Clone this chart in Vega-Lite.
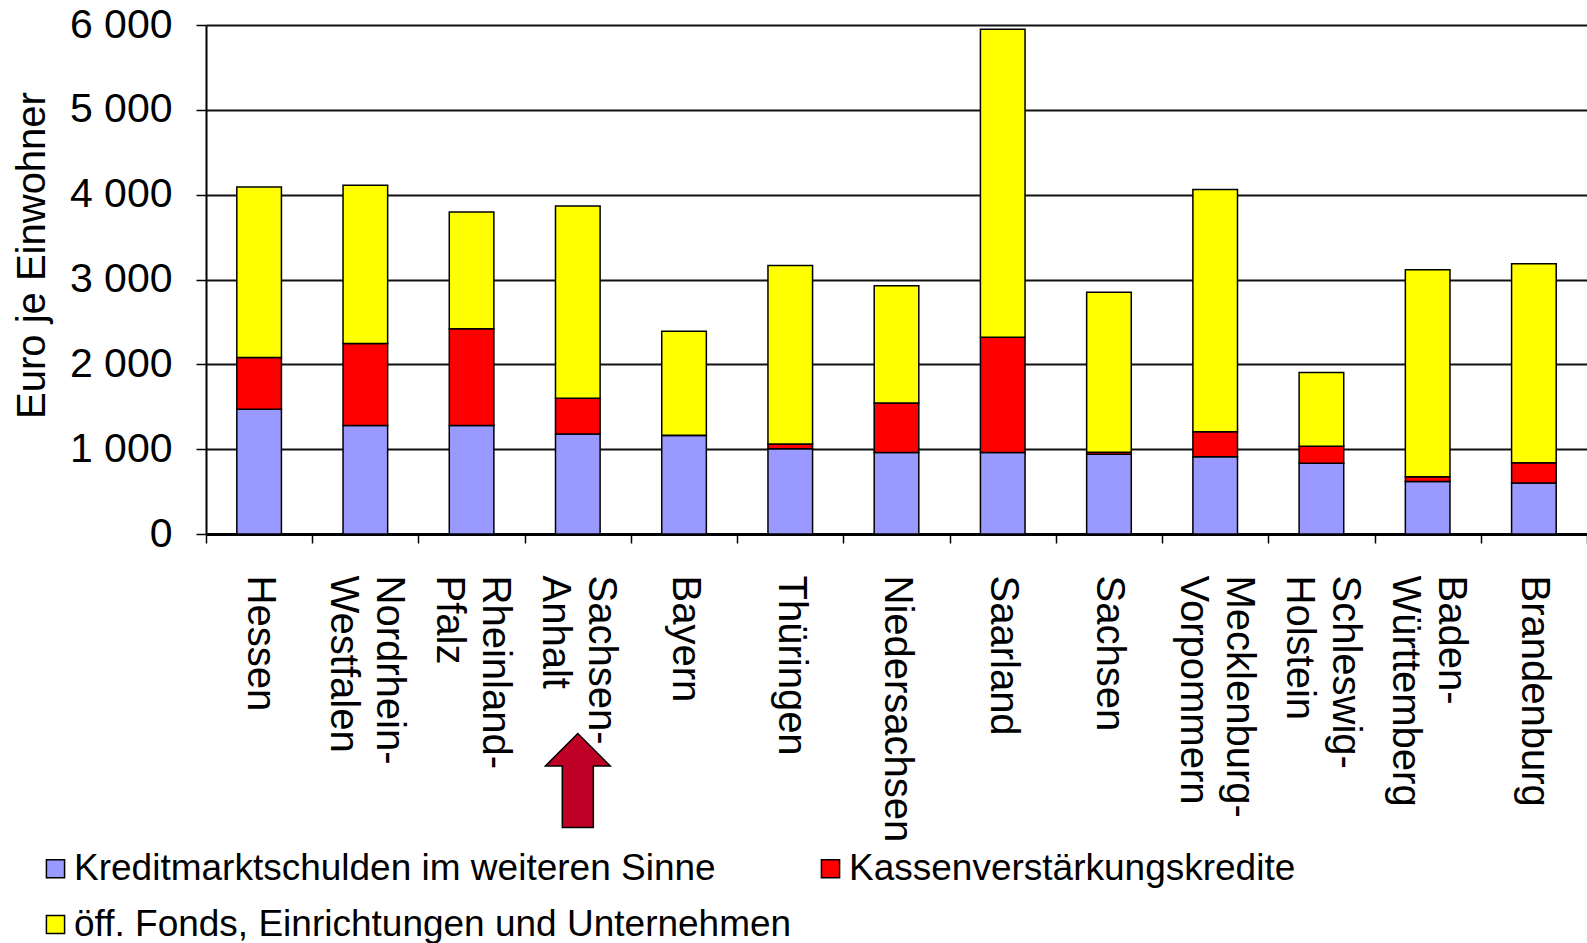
{
  "$schema": "https://vega.github.io/schema/vega-lite/v6.json",
  "width": 1381,
  "height": 509,
  "autosize": "none",
  "padding": {"left": 206, "top": 25, "right": 0, "bottom": 409},
  "background": "white",
  "config": {
    "font": "Liberation Sans",
    "view": {"stroke": null}
  },
  "layer": [
    {
      "data": {
        "values": [
          {"Land": "Hessen", "Art": "Kreditmarktschulden im weiteren Sinne", "Nr": 1, "Wert": 1470},
          {"Land": "Hessen", "Art": "Kassenverstärkungskredite", "Nr": 2, "Wert": 610},
          {"Land": "Hessen", "Art": "öff. Fonds, Einrichtungen und Unternehmen", "Nr": 3, "Wert": 2010},
          {"Land": "Nordrhein-Westfalen", "Art": "Kreditmarktschulden im weiteren Sinne", "Nr": 1, "Wert": 1280},
          {"Land": "Nordrhein-Westfalen", "Art": "Kassenverstärkungskredite", "Nr": 2, "Wert": 965},
          {"Land": "Nordrhein-Westfalen", "Art": "öff. Fonds, Einrichtungen und Unternehmen", "Nr": 3, "Wert": 1865},
          {"Land": "Rheinland-Pfalz", "Art": "Kreditmarktschulden im weiteren Sinne", "Nr": 1, "Wert": 1280},
          {"Land": "Rheinland-Pfalz", "Art": "Kassenverstärkungskredite", "Nr": 2, "Wert": 1140},
          {"Land": "Rheinland-Pfalz", "Art": "öff. Fonds, Einrichtungen und Unternehmen", "Nr": 3, "Wert": 1375},
          {"Land": "Sachsen-Anhalt", "Art": "Kreditmarktschulden im weiteren Sinne", "Nr": 1, "Wert": 1180},
          {"Land": "Sachsen-Anhalt", "Art": "Kassenverstärkungskredite", "Nr": 2, "Wert": 420},
          {"Land": "Sachsen-Anhalt", "Art": "öff. Fonds, Einrichtungen und Unternehmen", "Nr": 3, "Wert": 2265},
          {"Land": "Bayern", "Art": "Kreditmarktschulden im weiteren Sinne", "Nr": 1, "Wert": 1160},
          {"Land": "Bayern", "Art": "Kassenverstärkungskredite", "Nr": 2, "Wert": 5},
          {"Land": "Bayern", "Art": "öff. Fonds, Einrichtungen und Unternehmen", "Nr": 3, "Wert": 1225},
          {"Land": "Thüringen", "Art": "Kreditmarktschulden im weiteren Sinne", "Nr": 1, "Wert": 1005},
          {"Land": "Thüringen", "Art": "Kassenverstärkungskredite", "Nr": 2, "Wert": 55},
          {"Land": "Thüringen", "Art": "öff. Fonds, Einrichtungen und Unternehmen", "Nr": 3, "Wert": 2105},
          {"Land": "Niedersachsen", "Art": "Kreditmarktschulden im weiteren Sinne", "Nr": 1, "Wert": 960},
          {"Land": "Niedersachsen", "Art": "Kassenverstärkungskredite", "Nr": 2, "Wert": 585},
          {"Land": "Niedersachsen", "Art": "öff. Fonds, Einrichtungen und Unternehmen", "Nr": 3, "Wert": 1380},
          {"Land": "Saarland", "Art": "Kreditmarktschulden im weiteren Sinne", "Nr": 1, "Wert": 960},
          {"Land": "Saarland", "Art": "Kassenverstärkungskredite", "Nr": 2, "Wert": 1360},
          {"Land": "Saarland", "Art": "öff. Fonds, Einrichtungen und Unternehmen", "Nr": 3, "Wert": 3630},
          {"Land": "Sachsen", "Art": "Kreditmarktschulden im weiteren Sinne", "Nr": 1, "Wert": 940},
          {"Land": "Sachsen", "Art": "Kassenverstärkungskredite", "Nr": 2, "Wert": 25},
          {"Land": "Sachsen", "Art": "öff. Fonds, Einrichtungen und Unternehmen", "Nr": 3, "Wert": 1885},
          {"Land": "Mecklenburg-Vorpommern", "Art": "Kreditmarktschulden im weiteren Sinne", "Nr": 1, "Wert": 910},
          {"Land": "Mecklenburg-Vorpommern", "Art": "Kassenverstärkungskredite", "Nr": 2, "Wert": 295},
          {"Land": "Mecklenburg-Vorpommern", "Art": "öff. Fonds, Einrichtungen und Unternehmen", "Nr": 3, "Wert": 2855},
          {"Land": "Schleswig-Holstein", "Art": "Kreditmarktschulden im weiteren Sinne", "Nr": 1, "Wert": 835},
          {"Land": "Schleswig-Holstein", "Art": "Kassenverstärkungskredite", "Nr": 2, "Wert": 200},
          {"Land": "Schleswig-Holstein", "Art": "öff. Fonds, Einrichtungen und Unternehmen", "Nr": 3, "Wert": 870},
          {"Land": "Baden-Württemberg", "Art": "Kreditmarktschulden im weiteren Sinne", "Nr": 1, "Wert": 620},
          {"Land": "Baden-Württemberg", "Art": "Kassenverstärkungskredite", "Nr": 2, "Wert": 55},
          {"Land": "Baden-Württemberg", "Art": "öff. Fonds, Einrichtungen und Unternehmen", "Nr": 3, "Wert": 2440},
          {"Land": "Brandenburg", "Art": "Kreditmarktschulden im weiteren Sinne", "Nr": 1, "Wert": 600},
          {"Land": "Brandenburg", "Art": "Kassenverstärkungskredite", "Nr": 2, "Wert": 240},
          {"Land": "Brandenburg", "Art": "öff. Fonds, Einrichtungen und Unternehmen", "Nr": 3, "Wert": 2345}
        ]
      },
      "mark": {"type": "bar", "stroke": "black", "strokeWidth": 1.5, "width": {"band": 0.42}},
      "encoding": {
        "x": {
          "field": "Land",
          "type": "nominal",
          "sort": null,
          "title": null,
          "scale": {
            "domain": ["Hessen", "Nordrhein-Westfalen", "Rheinland-Pfalz", "Sachsen-Anhalt", "Bayern", "Thüringen", "Niedersachsen", "Saarland", "Sachsen", "Mecklenburg-Vorpommern", "Schleswig-Holstein", "Baden-Württemberg", "Brandenburg"],
            "paddingInner": 0,
            "paddingOuter": 0
          },
          "axis": {
            "title": null,
            "labelAngle": 90,
            "labelFontSize": 40,
            "labelColor": "black",
            "labelPadding": 32,
            "labelLineHeight": 46,
            "labelLimit": 500,
            "labelOverlap": false,
            "labelOffset": {"condition": {"test": "indexof(datum.label, '-') > 0", "value": 23}, "value": 0},
            "labelExpr": "indexof(datum.label, '-') > 0 ? [substring(datum.label, 0, indexof(datum.label, '-') + 1), substring(datum.label, indexof(datum.label, '-') + 1, length(datum.label))] : datum.label",
            "tickBand": "extent",
            "tickSize": 9,
            "tickColor": "black",
            "tickWidth": 1.5,
            "domainColor": "black",
            "domainWidth": 3,
            "grid": false
          }
        },
        "y": {
          "field": "Wert",
          "type": "quantitative",
          "stack": "zero",
          "title": "Euro je Einwohner",
          "scale": {"domain": [0, 6000], "nice": false},
          "axis": {
            "title": "Euro je Einwohner",
            "values": [0, 1000, 2000, 3000, 4000, 5000, 6000],
            "labelExpr": "replace(format(datum.value, ','), ',', ' ')",
            "labelFontSize": 41,
            "labelColor": "black",
            "labelPadding": 24,
            "tickSize": 10,
            "tickColor": "black",
            "tickWidth": 1.5,
            "domainColor": "black",
            "domainWidth": 2,
            "grid": true,
            "gridColor": "#111111",
            "gridWidth": 1.8,
            "titleFontSize": 40,
            "titleFontWeight": "normal",
            "titleColor": "black",
            "titleAngle": -90,
            "titleX": -162,
            "titleY": 230,
            "titleAlign": "center",
            "titleBaseline": "alphabetic"
          }
        },
        "color": {
          "field": "Art",
          "type": "nominal",
          "scale": {
            "domain": ["Kreditmarktschulden im weiteren Sinne", "Kassenverstärkungskredite", "öff. Fonds, Einrichtungen und Unternehmen"],
            "range": ["#9999FF", "#FF0000", "#FFFF00"]
          },
          "legend": {
            "title": null,
            "orient": "none",
            "direction": "horizontal",
            "legendX": -169,
            "legendY": 825,
            "columns": 2,
            "columnPadding": 20,
            "rowPadding": 18,
            "labelFontSize": 37,
            "labelColor": "black",
            "labelLimit": 1000,
            "labelOffset": 0,
            "symbolType": "square",
            "symbolSize": 330,
            "symbolStrokeColor": "black",
            "symbolStrokeWidth": 1.5,
            "symbolOpacity": 1
          }
        },
        "order": {"field": "Nr", "type": "quantitative"}
      }
    },
    {
      "data": {"values": [{"Land": "Sachsen-Anhalt"}]},
      "mark": {
        "type": "point",
        "shape": "M0,-1L0.69,-0.31L0.33,-0.31L0.33,1L-0.33,1L-0.33,-0.31L-0.69,-0.31Z",
        "filled": true,
        "fill": "#BE0027",
        "stroke": "black",
        "strokeWidth": 1.5,
        "opacity": 1,
        "size": 8836
      },
      "encoding": {
        "x": {"field": "Land", "type": "nominal", "title": null},
        "y": {"datum": -2906, "type": "quantitative", "title": "Euro je Einwohner"}
      }
    }
  ]
}
